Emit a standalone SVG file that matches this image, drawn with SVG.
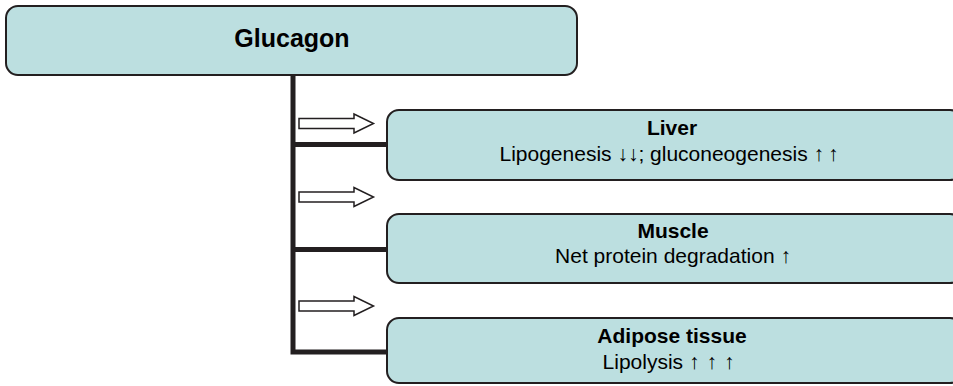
<svg xmlns="http://www.w3.org/2000/svg" width="953" height="386" viewBox="0 0 953 386">
  <defs>
    <style>
      .box { fill: #bcdfe0; stroke: #231f20; stroke-width: 2; }
      .t { font-family: "Liberation Sans", Arial, sans-serif; font-size: 21px; fill: #000; text-anchor: middle; }
      .b { font-weight: bold; }
      .conn { fill: none; stroke: #231f20; stroke-width: 5; stroke-linejoin: miter; stroke-linecap: butt; }
      .barrow { fill: #fff; stroke: #231f20; stroke-width: 1.5; stroke-linejoin: miter; }
    </style>
    <path id="blockArrow" class="barrow" d="M299,118.5 H354 V114 L373.5,123.5 L354,133 V128.5 H299 Z"/>
  </defs>
  <rect width="953" height="386" fill="#fff"/>

  <g id="connectors">
    <path class="conn" d="M293,75 V352 H388"/>
    <path class="conn" d="M293,144.5 H388"/>
    <path class="conn" d="M293,249.5 H388"/>
    <use href="#blockArrow"/>
    <use href="#blockArrow" transform="translate(0,73.5)"/>
    <use href="#blockArrow" transform="translate(0,182.5)"/>
  </g>

  <g id="glucagon">
    <rect class="box" x="6" y="6" width="571" height="69" rx="12" ry="12"/>
    <text class="t b" x="292" y="47" style="font-size:25px">Glucagon</text>
  </g>

  <g id="liver">
    <rect class="box" x="387" y="110" width="575" height="70" rx="12" ry="12"/>
    <text class="t b" x="672" y="135">Liver</text>
    <text class="t" x="671" y="161">Lipogenesis ↓↓; gluconeogenesis <tspan letter-spacing="4">↑↑</tspan></text>
  </g>

  <g id="muscle">
    <rect class="box" x="387" y="214" width="575" height="69" rx="12" ry="12"/>
    <text class="t b" x="673" y="238">Muscle</text>
    <text class="t" x="673" y="263">Net protein degradation ↑</text>
  </g>

  <g id="adipose">
    <rect class="box" x="387" y="318" width="575" height="65" rx="12" ry="12"/>
    <text class="t b" x="672" y="343">Adipose tissue</text>
    <text class="t" x="672" y="369">Lipolysis <tspan letter-spacing="7">↑↑↑</tspan></text>
  </g>
</svg>
